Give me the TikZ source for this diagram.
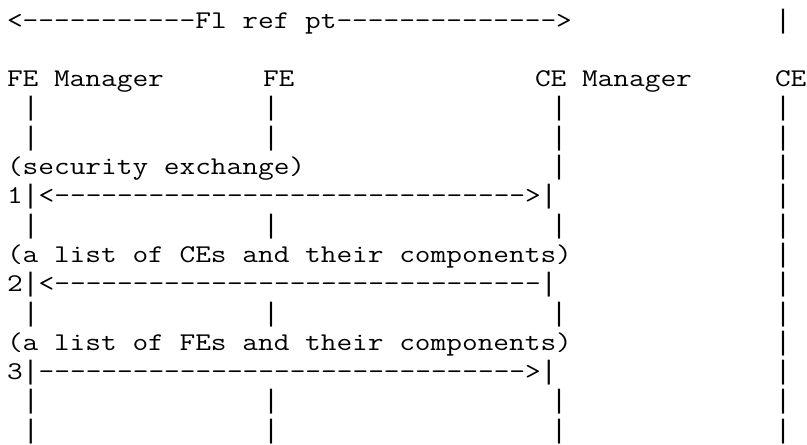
\documentclass[tikz,border=0pt]{standalone}
\usepackage{fontspec}
\setmonofont[Ligatures=TeXOff,FakeStretch=1.195]{Latin Modern Mono}
\newfontfamily\barfont[Ligatures=TeXOff]{Liberation Mono}
\tikzset{ascii node/.style={anchor=base west,inner sep=0pt,outer sep=0pt,
            font=\ttfamily\fontsize{25.5pt}{29.3pt}\selectfont},
            }
% a full height bar, one column wide
\newcommand\vbar{{\barfont\fontsize{26.67pt}{29.3pt}\selectfont|}}
% one row of the four life lines
\newcommand\lifelines[1]{%
 \node[ascii node] (fem#1) at (1,#1) {\vbar};
 \node[ascii node] (fe#1) at (16,#1) {\vbar};
 \node[ascii node] (cem#1) at (34,#1) {\vbar};
 \node[ascii node] (ce#1) at (48,#1) {\vbar};}

\begin{document}
\begin{tikzpicture}[x=16pt,y=-29.3pt]
 \useasboundingbox (-7pt,28pt) rectangle (800pt,-417pt);
 \node[ascii node] (refpt) at (0,0) {<-----------Fl ref pt-------------->};
 \node[ascii node] (ce0) at (48,0) {\vbar};

 \node[ascii node] (femgr) at (0,2) {FE Manager};
 \node[ascii node] (fe) at (16,2) {FE};
 \node[ascii node] (cemgr) at (33,2) {CE Manager};
 \node[ascii node] (ce) at (48,2) {CE};

 \lifelines{3}
 \lifelines{4}

 \node[ascii node] (sec) at (0,5) {(security exchange)};
 \node[ascii node] (cem5) at (34,5) {\vbar};
 \node[ascii node] (ce5) at (48,5) {\vbar};
 \node[ascii node] (msg1) at (0,6) {1\vbar<------------------------------>\vbar};
 \node[ascii node] (ce6) at (48,6) {\vbar};

 \lifelines{7}

 \node[ascii node] (celist) at (0,8) {(a list of CEs and their components)};
 \node[ascii node] (ce8) at (48,8) {\vbar};
 \node[ascii node] (msg2) at (0,9) {2\vbar<-------------------------------\vbar};
 \node[ascii node] (ce9) at (48,9) {\vbar};

 \lifelines{10}

 \node[ascii node] (felist) at (0,11) {(a list of FEs and their components)};
 \node[ascii node] (ce11) at (48,11) {\vbar};
 \node[ascii node] (msg3) at (0,12) {3\vbar------------------------------->\vbar};
 \node[ascii node] (ce12) at (48,12) {\vbar};

 \lifelines{13}
 \lifelines{14}
\end{tikzpicture}
\end{document}
